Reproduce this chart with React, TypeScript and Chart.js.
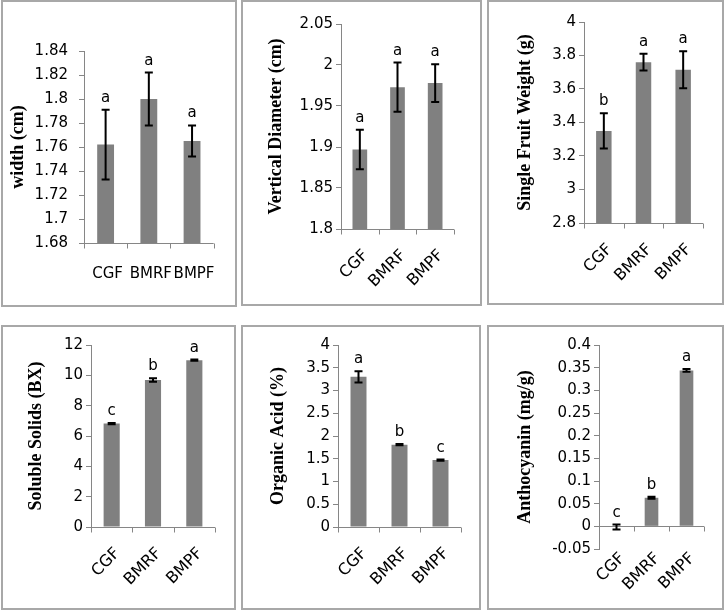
import React, { useEffect, useRef } from "react";
import { Chart, registerables } from "chart.js";

Chart.register(...registerables);

// ---------- data ----------
const categories = ["CGF", "BMRF", "BMPF"];

const widthValues = [1.762, 1.8, 1.765];
const widthErrors = [0.029, 0.022, 0.013];
const widthLetters = ["a", "a", "a"];
const widthTicks = [1.68, 1.7, 1.72, 1.74, 1.76, 1.78, 1.8, 1.82, 1.84];

const diameterValues = [1.897, 1.973, 1.978];
const diameterErrors = [0.024, 0.03, 0.023];
const diameterLetters = ["a", "a", "a"];
const diameterTicks = [1.8, 1.85, 1.9, 1.95, 2, 2.05];

const weightValues = [3.35, 3.76, 3.715];
const weightErrors = [0.105, 0.05, 0.11];
const weightLetters = ["b", "a", "a"];
const weightTicks = [2.8, 3, 3.2, 3.4, 3.6, 3.8, 4];

const solidsValues = [6.82, 9.69, 11.0];
const solidsErrors = [0.04, 0.11, 0.04];
const solidsLetters = ["c", "b", "a"];
const solidsTicks = [0, 2, 4, 6, 8, 10, 12];

const acidValues = [3.3, 1.81, 1.47];
const acidErrors = [0.125, 0.015, 0.012];
const acidLetters = ["a", "b", "c"];
const acidTicks = [0, 0.5, 1, 1.5, 2, 2.5, 3, 3.5, 4];

const anthoValues = [-0.0015, 0.063, 0.344];
const anthoErrors = [0.0055, 0.002, 0.003];
const anthoLetters = ["c", "b", "a"];
const anthoTicks = [-0.05, 0, 0.05, 0.1, 0.15, 0.2, 0.25, 0.3, 0.35, 0.4];

// ---------- styles / layout ----------
const BAR = "#808080";
const AXIS = "#868686";
const TICK_FONT = "DejaVu Sans";
const TITLE_FONT = "Liberation Serif";
const TITLE_SIZE = 18;

type PanelCfg = {
  title: string;
  values: number[];
  errors: number[];
  letters: string[];
  ticks: number[];
  box: [number, number, number, number];
  area: [number, number, number, number];
  titleX: number;
  rotate: boolean;
  xPad: number;
  yPad: number;
};

const panels: PanelCfg[] = [
  { title: "width (cm)", values: widthValues, errors: widthErrors, letters: widthLetters, ticks: widthTicks,
    box: [1, 0, 237, 307], area: [84, 51, 222, 243], titleX: 18, rotate: false, xPad: 22, yPad: 11 },
  { title: "Vertical Diameter (cm)", values: diameterValues, errors: diameterErrors, letters: diameterLetters, ticks: diameterTicks,
    box: [241, 0, 482, 306], area: [341, 24, 454, 229], titleX: 276, rotate: true, xPad: 17, yPad: 3 },
  { title: "Single Fruit Weight (g)", values: weightValues, errors: weightErrors, letters: weightLetters, ticks: weightTicks,
    box: [487, 0, 724, 305], area: [584, 22, 703, 223], titleX: 525, rotate: true, xPad: 17, yPad: 3 },
  { title: "Soluble Solids (BX)", values: solidsValues, errors: solidsErrors, letters: solidsLetters, ticks: solidsTicks,
    box: [1, 325, 236, 610], area: [91, 345, 215, 527], titleX: 36, rotate: true, xPad: 17, yPad: 3 },
  { title: "Organic Acid (%)", values: acidValues, errors: acidErrors, letters: acidLetters, ticks: acidTicks,
    box: [241, 325, 481, 610], area: [338, 345, 461, 527], titleX: 278, rotate: true, xPad: 17, yPad: 3 },
  { title: "Anthocyanin (mg/g)", values: anthoValues, errors: anthoErrors, letters: anthoLetters, ticks: anthoTicks,
    box: [487, 325, 724, 610], area: [599, 345, 704, 549], titleX: 525, rotate: true, xPad: 0, yPad: 3 },
];

const annotPlugin = {
  id: "annot",
  afterDatasetsDraw(chart: any, _args: any, opts: any) {
    const { ctx, chartArea } = chart;
    const y = chart.scales.y;
    const meta = chart.getDatasetMeta(0);
    const values: number[] = chart.data.datasets[0].data;
    ctx.save();
    // category axis line with boundary ticks
    const y0 = Math.round(y.getPixelForValue(Math.max(y.min, 0))) + 0.5;
    const n = values.length;
    const w = (chartArea.right - chartArea.left) / n;
    ctx.strokeStyle = AXIS;
    ctx.lineWidth = 1;
    ctx.beginPath();
    ctx.moveTo(chartArea.left, y0);
    ctx.lineTo(chartArea.right, y0);
    for (let k = 0; k <= n; k++) {
      const x = Math.round(chartArea.left + k * w) + 0.5;
      ctx.moveTo(x, y0);
      ctx.lineTo(x, y0 + 5);
    }
    ctx.stroke();
    // error bars and letters
    ctx.strokeStyle = "#000";
    ctx.lineWidth = 2;
    ctx.fillStyle = "#000";
    ctx.font = `15px "${TICK_FONT}"`;
    ctx.textAlign = "center";
    ctx.textBaseline = "alphabetic";
    meta.data.forEach((bar: any, i: number) => {
      const x = bar.x;
      const v = values[i];
      const e = opts.errors[i];
      const yt = y.getPixelForValue(v + e);
      const yb = y.getPixelForValue(v - e);
      ctx.beginPath();
      ctx.moveTo(x, yt);
      ctx.lineTo(x, yb);
      ctx.moveTo(x - 4, yt);
      ctx.lineTo(x + 4, yt);
      ctx.moveTo(x - 4, yb);
      ctx.lineTo(x + 4, yb);
      ctx.stroke();
      ctx.fillText(opts.letters[i], x, yt - 8);
    });
    ctx.restore();
  },
};

function Panel({ cfg }: { cfg: PanelCfg }) {
  const ref = useRef<HTMLCanvasElement>(null);
  const [l, t, r, b] = cfg.box;
  const [al, at, ar, ab] = cfg.area;
  const W = r - l;
  const H = b - t;
  useEffect(() => {
    if (!ref.current) return;
    const padLeft = cfg.titleX - l - (TITLE_SIZE * 1.2) / 2;
    const chart = new Chart(ref.current, {
      type: "bar",
      data: {
        labels: categories,
        datasets: [
          {
            data: cfg.values,
            backgroundColor: BAR,
            borderWidth: 0,
            barPercentage: 0.39,
            categoryPercentage: 1,
          },
        ],
      },
      options: {
        animation: false,
        responsive: false,
        events: [],
        layout: {
          autoPadding: false,
          padding: { left: padLeft, top: at - t, right: r - ar, bottom: 0 },
        },
        plugins: {
          legend: { display: false },
          tooltip: { enabled: false },
          annot: { errors: cfg.errors, letters: cfg.letters },
        } as any,
        scales: {
          x: {
            grid: { display: false, drawTicks: false },
            border: { display: false },
            ticks: {
              autoSkip: false,
              maxRotation: cfg.rotate ? 45 : 0,
              minRotation: cfg.rotate ? 45 : 0,
              padding: cfg.xPad,
              labelOffset: cfg.rotate ? 6 : 2,
              color: "#000",
              font: { family: TICK_FONT, size: cfg.rotate ? 16 : 15 },
            },
            afterFit: (s: any) => {
              s.height = b - ab;
            },
          },
          y: {
            min: cfg.ticks[0],
            max: cfg.ticks[cfg.ticks.length - 1],
            afterBuildTicks: (s: any) => {
              s.ticks = cfg.ticks.map((v) => ({ value: v }));
            },
            afterFit: (s: any) => {
              s.width = al - l - padLeft;
            },
            grid: { drawOnChartArea: false, drawTicks: true, tickLength: 5, color: AXIS },
            border: { display: true, color: AXIS, width: 1 },
            ticks: {
              padding: cfg.yPad,
              color: "#000",
              font: { family: TICK_FONT, size: 15 },
              callback: (v: any) => String(Number(Number(v).toFixed(6))),
            },
            title: {
              display: true,
              text: cfg.title,
              color: "#000",
              padding: 0,
              font: { family: TITLE_FONT, size: TITLE_SIZE, weight: "bold" },
            },
          },
        },
      },
      plugins: [annotPlugin as any],
    });
    return () => chart.destroy();
  }, []);
  return (
    <>
      <div
        style={{
          position: "absolute",
          left: l,
          top: t,
          width: W,
          height: H,
          border: "2px solid #a8a8a8",
          boxSizing: "border-box",
        }}
      />
      <canvas
        ref={ref}
        width={W}
        height={H}
        style={{ position: "absolute", left: l, top: t, width: W, height: H }}
      />
    </>
  );
}

export default function App() {
  return (
    <div style={{ position: "absolute", left: 0, top: 0, width: 725, height: 611, background: "#fff" }}>
      {panels.map((p, i) => (
        <Panel key={i} cfg={p} />
      ))}
    </div>
  );
}
